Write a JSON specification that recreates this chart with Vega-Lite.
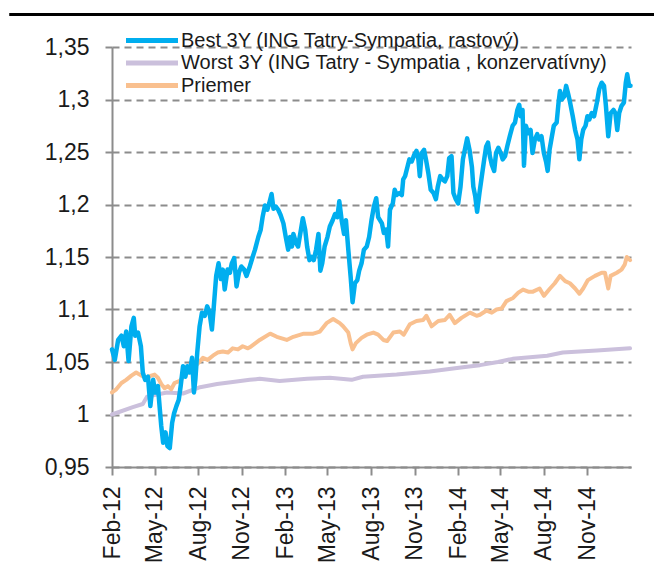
{
  "$schema": "https://vega.github.io/schema/vega-lite/v6.json",
  "width": 519,
  "height": 420,
  "autosize": {"type": "none"},
  "padding": {"left": 112, "top": 47, "right": 23, "bottom": 107},
  "background": "#ffffff",
  "config": {
    "view": {"stroke": null},
    "font": "Liberation Sans"
  },
  "datasets": {
    "best": [
      {"date": "2012-02-01", "value": 1.062}, {"date": "2012-02-07", "value": 1.052}, {"date": "2012-02-14", "value": 1.071}, {"date": "2012-02-21", "value": 1.075}, {"date": "2012-02-26", "value": 1.065}, {"date": "2012-03-02", "value": 1.079}, {"date": "2012-03-07", "value": 1.051}, {"date": "2012-03-13", "value": 1.084}, {"date": "2012-03-18", "value": 1.092}, {"date": "2012-03-21", "value": 1.075}, {"date": "2012-03-27", "value": 1.078}, {"date": "2012-04-02", "value": 1.065}, {"date": "2012-04-06", "value": 1.040}, {"date": "2012-04-11", "value": 1.033}, {"date": "2012-04-17", "value": 1.036}, {"date": "2012-04-22", "value": 1.008}, {"date": "2012-04-28", "value": 1.033}, {"date": "2012-05-02", "value": 1.021}, {"date": "2012-05-08", "value": 1.027}, {"date": "2012-05-12", "value": 1.005}, {"date": "2012-05-15", "value": 0.989}, {"date": "2012-05-19", "value": 0.973}, {"date": "2012-05-24", "value": 0.983}, {"date": "2012-05-28", "value": 0.970}, {"date": "2012-06-02", "value": 0.968}, {"date": "2012-06-07", "value": 0.992}, {"date": "2012-06-11", "value": 1.001}, {"date": "2012-06-16", "value": 1.008}, {"date": "2012-06-21", "value": 1.014}, {"date": "2012-06-25", "value": 1.027}, {"date": "2012-06-30", "value": 1.046}, {"date": "2012-07-05", "value": 1.036}, {"date": "2012-07-09", "value": 1.046}, {"date": "2012-07-14", "value": 1.040}, {"date": "2012-07-19", "value": 1.054}, {"date": "2012-07-23", "value": 1.021}, {"date": "2012-07-26", "value": 1.033}, {"date": "2012-07-30", "value": 1.059}, {"date": "2012-08-04", "value": 1.084}, {"date": "2012-08-09", "value": 1.097}, {"date": "2012-08-15", "value": 1.094}, {"date": "2012-08-20", "value": 1.103}, {"date": "2012-08-25", "value": 1.097}, {"date": "2012-08-30", "value": 1.081}, {"date": "2012-09-03", "value": 1.103}, {"date": "2012-09-08", "value": 1.132}, {"date": "2012-09-13", "value": 1.144}, {"date": "2012-09-18", "value": 1.129}, {"date": "2012-09-22", "value": 1.138}, {"date": "2012-09-26", "value": 1.119}, {"date": "2012-10-02", "value": 1.138}, {"date": "2012-10-07", "value": 1.135}, {"date": "2012-10-11", "value": 1.144}, {"date": "2012-10-16", "value": 1.149}, {"date": "2012-10-21", "value": 1.122}, {"date": "2012-10-26", "value": 1.135}, {"date": "2012-10-31", "value": 1.141}, {"date": "2012-11-06", "value": 1.138}, {"date": "2012-11-11", "value": 1.132}, {"date": "2012-11-18", "value": 1.141}, {"date": "2012-11-24", "value": 1.150}, {"date": "2012-11-29", "value": 1.157}, {"date": "2012-12-06", "value": 1.169}, {"date": "2012-12-11", "value": 1.176}, {"date": "2012-12-15", "value": 1.188}, {"date": "2012-12-20", "value": 1.199}, {"date": "2012-12-25", "value": 1.195}, {"date": "2012-12-29", "value": 1.201}, {"date": "2013-01-03", "value": 1.210}, {"date": "2013-01-07", "value": 1.196}, {"date": "2013-01-12", "value": 1.198}, {"date": "2013-01-17", "value": 1.195}, {"date": "2013-01-22", "value": 1.190}, {"date": "2013-01-28", "value": 1.182}, {"date": "2013-02-02", "value": 1.169}, {"date": "2013-02-07", "value": 1.157}, {"date": "2013-02-11", "value": 1.169}, {"date": "2013-02-15", "value": 1.160}, {"date": "2013-02-18", "value": 1.172}, {"date": "2013-02-24", "value": 1.163}, {"date": "2013-02-28", "value": 1.160}, {"date": "2013-03-06", "value": 1.176}, {"date": "2013-03-10", "value": 1.187}, {"date": "2013-03-15", "value": 1.176}, {"date": "2013-03-19", "value": 1.160}, {"date": "2013-03-24", "value": 1.147}, {"date": "2013-03-29", "value": 1.150}, {"date": "2013-04-02", "value": 1.147}, {"date": "2013-04-07", "value": 1.157}, {"date": "2013-04-12", "value": 1.172}, {"date": "2013-04-16", "value": 1.137}, {"date": "2013-04-20", "value": 1.144}, {"date": "2013-04-25", "value": 1.160}, {"date": "2013-05-01", "value": 1.169}, {"date": "2013-05-06", "value": 1.179}, {"date": "2013-05-12", "value": 1.185}, {"date": "2013-05-17", "value": 1.191}, {"date": "2013-05-22", "value": 1.188}, {"date": "2013-05-26", "value": 1.203}, {"date": "2013-05-31", "value": 1.185}, {"date": "2013-06-05", "value": 1.172}, {"date": "2013-06-09", "value": 1.185}, {"date": "2013-06-14", "value": 1.157}, {"date": "2013-06-19", "value": 1.131}, {"date": "2013-06-23", "value": 1.107}, {"date": "2013-06-28", "value": 1.125}, {"date": "2013-07-03", "value": 1.128}, {"date": "2013-07-07", "value": 1.137}, {"date": "2013-07-12", "value": 1.144}, {"date": "2013-07-17", "value": 1.157}, {"date": "2013-07-23", "value": 1.160}, {"date": "2013-07-28", "value": 1.169}, {"date": "2013-08-02", "value": 1.185}, {"date": "2013-08-07", "value": 1.198}, {"date": "2013-08-12", "value": 1.206}, {"date": "2013-08-16", "value": 1.188}, {"date": "2013-08-24", "value": 1.182}, {"date": "2013-08-28", "value": 1.173}, {"date": "2013-09-02", "value": 1.176}, {"date": "2013-09-06", "value": 1.160}, {"date": "2013-09-10", "value": 1.195}, {"date": "2013-09-16", "value": 1.201}, {"date": "2013-09-20", "value": 1.214}, {"date": "2013-09-24", "value": 1.209}, {"date": "2013-09-30", "value": 1.211}, {"date": "2013-10-05", "value": 1.209}, {"date": "2013-10-08", "value": 1.224}, {"date": "2013-10-12", "value": 1.227}, {"date": "2013-10-17", "value": 1.236}, {"date": "2013-10-21", "value": 1.243}, {"date": "2013-10-26", "value": 1.241}, {"date": "2013-10-31", "value": 1.247}, {"date": "2013-11-05", "value": 1.251}, {"date": "2013-11-09", "value": 1.243}, {"date": "2013-11-12", "value": 1.227}, {"date": "2013-11-16", "value": 1.249}, {"date": "2013-11-21", "value": 1.252}, {"date": "2013-11-25", "value": 1.243}, {"date": "2013-11-30", "value": 1.230}, {"date": "2013-12-05", "value": 1.214}, {"date": "2013-12-11", "value": 1.211}, {"date": "2013-12-16", "value": 1.205}, {"date": "2013-12-20", "value": 1.217}, {"date": "2013-12-25", "value": 1.227}, {"date": "2013-12-30", "value": 1.224}, {"date": "2014-01-04", "value": 1.222}, {"date": "2014-01-09", "value": 1.227}, {"date": "2014-01-13", "value": 1.244}, {"date": "2014-01-18", "value": 1.246}, {"date": "2014-01-22", "value": 1.211}, {"date": "2014-01-27", "value": 1.205}, {"date": "2014-02-01", "value": 1.201}, {"date": "2014-02-06", "value": 1.217}, {"date": "2014-02-11", "value": 1.243}, {"date": "2014-02-15", "value": 1.252}, {"date": "2014-02-20", "value": 1.263}, {"date": "2014-02-25", "value": 1.252}, {"date": "2014-03-02", "value": 1.236}, {"date": "2014-03-05", "value": 1.217}, {"date": "2014-03-09", "value": 1.208}, {"date": "2014-03-13", "value": 1.193}, {"date": "2014-03-18", "value": 1.211}, {"date": "2014-03-23", "value": 1.227}, {"date": "2014-03-28", "value": 1.243}, {"date": "2014-04-01", "value": 1.255}, {"date": "2014-04-05", "value": 1.259}, {"date": "2014-04-09", "value": 1.246}, {"date": "2014-04-13", "value": 1.238}, {"date": "2014-04-18", "value": 1.232}, {"date": "2014-04-22", "value": 1.249}, {"date": "2014-04-27", "value": 1.254}, {"date": "2014-05-02", "value": 1.249}, {"date": "2014-05-06", "value": 1.243}, {"date": "2014-05-11", "value": 1.246}, {"date": "2014-05-16", "value": 1.256}, {"date": "2014-05-21", "value": 1.265}, {"date": "2014-05-27", "value": 1.275}, {"date": "2014-06-01", "value": 1.278}, {"date": "2014-06-06", "value": 1.290}, {"date": "2014-06-10", "value": 1.295}, {"date": "2014-06-13", "value": 1.284}, {"date": "2014-06-17", "value": 1.290}, {"date": "2014-06-20", "value": 1.237}, {"date": "2014-06-24", "value": 1.275}, {"date": "2014-06-29", "value": 1.268}, {"date": "2014-07-04", "value": 1.271}, {"date": "2014-07-08", "value": 1.249}, {"date": "2014-07-13", "value": 1.262}, {"date": "2014-07-18", "value": 1.267}, {"date": "2014-07-22", "value": 1.262}, {"date": "2014-07-27", "value": 1.265}, {"date": "2014-08-01", "value": 1.249}, {"date": "2014-08-06", "value": 1.240}, {"date": "2014-08-09", "value": 1.232}, {"date": "2014-08-13", "value": 1.252}, {"date": "2014-08-18", "value": 1.265}, {"date": "2014-08-22", "value": 1.275}, {"date": "2014-08-28", "value": 1.278}, {"date": "2014-09-01", "value": 1.297}, {"date": "2014-09-04", "value": 1.308}, {"date": "2014-09-08", "value": 1.300}, {"date": "2014-09-13", "value": 1.303}, {"date": "2014-09-17", "value": 1.313}, {"date": "2014-09-21", "value": 1.306}, {"date": "2014-09-25", "value": 1.298}, {"date": "2014-10-01", "value": 1.284}, {"date": "2014-10-06", "value": 1.271}, {"date": "2014-10-11", "value": 1.262}, {"date": "2014-10-15", "value": 1.243}, {"date": "2014-10-19", "value": 1.262}, {"date": "2014-10-23", "value": 1.271}, {"date": "2014-10-28", "value": 1.275}, {"date": "2014-11-01", "value": 1.284}, {"date": "2014-11-05", "value": 1.281}, {"date": "2014-11-10", "value": 1.287}, {"date": "2014-11-15", "value": 1.284}, {"date": "2014-11-21", "value": 1.297}, {"date": "2014-11-26", "value": 1.310}, {"date": "2014-12-01", "value": 1.316}, {"date": "2014-12-06", "value": 1.313}, {"date": "2014-12-10", "value": 1.294}, {"date": "2014-12-15", "value": 1.265}, {"date": "2014-12-20", "value": 1.287}, {"date": "2014-12-26", "value": 1.290}, {"date": "2014-12-30", "value": 1.287}, {"date": "2015-01-03", "value": 1.271}, {"date": "2015-01-07", "value": 1.287}, {"date": "2015-01-12", "value": 1.294}, {"date": "2015-01-17", "value": 1.297}, {"date": "2015-01-21", "value": 1.316}, {"date": "2015-01-24", "value": 1.324}, {"date": "2015-01-28", "value": 1.313}, {"date": "2015-01-31", "value": 1.313}
    ],
    "worst": [
      {"date": "2012-02-01", "value": 1.000}, {"date": "2012-03-16", "value": 1.007}, {"date": "2012-04-06", "value": 1.010}, {"date": "2012-04-15", "value": 1.017}, {"date": "2012-05-27", "value": 1.021}, {"date": "2012-06-30", "value": 1.020}, {"date": "2012-08-05", "value": 1.026}, {"date": "2012-09-10", "value": 1.029}, {"date": "2012-10-13", "value": 1.031}, {"date": "2012-11-18", "value": 1.033}, {"date": "2012-12-09", "value": 1.034}, {"date": "2013-01-20", "value": 1.032}, {"date": "2013-03-19", "value": 1.034}, {"date": "2013-05-06", "value": 1.035}, {"date": "2013-06-21", "value": 1.033}, {"date": "2013-07-15", "value": 1.036}, {"date": "2013-09-24", "value": 1.038}, {"date": "2013-12-03", "value": 1.041}, {"date": "2014-02-11", "value": 1.045}, {"date": "2014-03-19", "value": 1.047}, {"date": "2014-04-26", "value": 1.050}, {"date": "2014-05-27", "value": 1.053}, {"date": "2014-08-08", "value": 1.056}, {"date": "2014-09-10", "value": 1.059}, {"date": "2014-11-21", "value": 1.061}, {"date": "2015-01-30", "value": 1.063}
    ],
    "avg": [
      {"date": "2012-02-01", "value": 1.021}, {"date": "2012-02-10", "value": 1.024}, {"date": "2012-02-21", "value": 1.030}, {"date": "2012-03-02", "value": 1.033}, {"date": "2012-03-13", "value": 1.037}, {"date": "2012-03-23", "value": 1.040}, {"date": "2012-04-03", "value": 1.037}, {"date": "2012-04-13", "value": 1.035}, {"date": "2012-04-24", "value": 1.037}, {"date": "2012-05-01", "value": 1.038}, {"date": "2012-05-08", "value": 1.035}, {"date": "2012-05-15", "value": 1.029}, {"date": "2012-05-22", "value": 1.025}, {"date": "2012-05-29", "value": 1.027}, {"date": "2012-06-05", "value": 1.024}, {"date": "2012-06-12", "value": 1.030}, {"date": "2012-06-23", "value": 1.032}, {"date": "2012-07-02", "value": 1.037}, {"date": "2012-07-10", "value": 1.040}, {"date": "2012-07-21", "value": 1.043}, {"date": "2012-08-01", "value": 1.049}, {"date": "2012-08-11", "value": 1.054}, {"date": "2012-08-21", "value": 1.052}, {"date": "2012-09-01", "value": 1.056}, {"date": "2012-09-11", "value": 1.059}, {"date": "2012-09-22", "value": 1.060}, {"date": "2012-10-03", "value": 1.059}, {"date": "2012-10-13", "value": 1.063}, {"date": "2012-10-24", "value": 1.062}, {"date": "2012-11-03", "value": 1.065}, {"date": "2012-11-14", "value": 1.063}, {"date": "2012-11-18", "value": 1.064}, {"date": "2012-12-09", "value": 1.071}, {"date": "2012-12-31", "value": 1.077}, {"date": "2013-01-14", "value": 1.074}, {"date": "2013-02-04", "value": 1.071}, {"date": "2013-02-18", "value": 1.074}, {"date": "2013-03-12", "value": 1.077}, {"date": "2013-04-01", "value": 1.077}, {"date": "2013-04-15", "value": 1.079}, {"date": "2013-04-29", "value": 1.087}, {"date": "2013-05-13", "value": 1.091}, {"date": "2013-05-27", "value": 1.087}, {"date": "2013-06-03", "value": 1.084}, {"date": "2013-06-14", "value": 1.078}, {"date": "2013-06-19", "value": 1.068}, {"date": "2013-06-23", "value": 1.062}, {"date": "2013-06-30", "value": 1.068}, {"date": "2013-07-12", "value": 1.073}, {"date": "2013-07-23", "value": 1.076}, {"date": "2013-08-06", "value": 1.078}, {"date": "2013-08-16", "value": 1.076}, {"date": "2013-08-27", "value": 1.071}, {"date": "2013-09-04", "value": 1.070}, {"date": "2013-09-17", "value": 1.078}, {"date": "2013-10-01", "value": 1.079}, {"date": "2013-10-09", "value": 1.076}, {"date": "2013-10-22", "value": 1.086}, {"date": "2013-11-05", "value": 1.089}, {"date": "2013-11-19", "value": 1.090}, {"date": "2013-11-26", "value": 1.094}, {"date": "2013-12-07", "value": 1.084}, {"date": "2013-12-21", "value": 1.089}, {"date": "2014-01-04", "value": 1.090}, {"date": "2014-01-14", "value": 1.095}, {"date": "2014-01-25", "value": 1.087}, {"date": "2014-02-08", "value": 1.092}, {"date": "2014-02-26", "value": 1.097}, {"date": "2014-03-12", "value": 1.094}, {"date": "2014-03-19", "value": 1.095}, {"date": "2014-04-02", "value": 1.099}, {"date": "2014-04-13", "value": 1.097}, {"date": "2014-04-23", "value": 1.100}, {"date": "2014-05-04", "value": 1.101}, {"date": "2014-05-14", "value": 1.108}, {"date": "2014-05-28", "value": 1.111}, {"date": "2014-06-08", "value": 1.116}, {"date": "2014-06-18", "value": 1.119}, {"date": "2014-06-29", "value": 1.117}, {"date": "2014-07-09", "value": 1.117}, {"date": "2014-07-23", "value": 1.120}, {"date": "2014-08-01", "value": 1.113}, {"date": "2014-08-14", "value": 1.120}, {"date": "2014-08-24", "value": 1.125}, {"date": "2014-09-04", "value": 1.132}, {"date": "2014-09-15", "value": 1.127}, {"date": "2014-09-25", "value": 1.125}, {"date": "2014-10-06", "value": 1.120}, {"date": "2014-10-15", "value": 1.115}, {"date": "2014-10-23", "value": 1.120}, {"date": "2014-11-02", "value": 1.128}, {"date": "2014-11-17", "value": 1.132}, {"date": "2014-12-01", "value": 1.135}, {"date": "2014-12-08", "value": 1.135}, {"date": "2014-12-15", "value": 1.120}, {"date": "2014-12-20", "value": 1.132}, {"date": "2015-01-02", "value": 1.135}, {"date": "2015-01-12", "value": 1.138}, {"date": "2015-01-19", "value": 1.143}, {"date": "2015-01-23", "value": 1.150}, {"date": "2015-01-30", "value": 1.147}
    ]
  },
  "layer": [
    {
      "data": {"name": "worst"},
      "mark": {"type": "line", "strokeWidth": 4, "strokeJoin": "round", "strokeCap": "round"},
      "encoding": {
        "x": {
          "field": "date",
          "type": "temporal",
          "scale": {"type": "utc", "domain": [{"year": 2012, "month": 2, "date": 1, "utc": true}, {"year": 2015, "month": 2, "date": 1, "utc": true}]},
          "axis": {
            "title": null,
            "values": [
              {"year": 2012, "month": 2, "date": 1, "utc": true},
              {"year": 2012, "month": 5, "date": 1, "utc": true},
              {"year": 2012, "month": 8, "date": 1, "utc": true},
              {"year": 2012, "month": 11, "date": 1, "utc": true},
              {"year": 2013, "month": 2, "date": 1, "utc": true},
              {"year": 2013, "month": 5, "date": 1, "utc": true},
              {"year": 2013, "month": 8, "date": 1, "utc": true},
              {"year": 2013, "month": 11, "date": 1, "utc": true},
              {"year": 2014, "month": 2, "date": 1, "utc": true},
              {"year": 2014, "month": 5, "date": 1, "utc": true},
              {"year": 2014, "month": 8, "date": 1, "utc": true},
              {"year": 2014, "month": 11, "date": 1, "utc": true}
            ],
            "format": "%b-%y",
            "labelAngle": 270,
            "labelAlign": "right",
            "labelBaseline": "middle",
            "labelFontSize": 23,
            "labelFont": "Liberation Sans",
            "labelColor": "#1a1a1a",
            "labelPadding": 11,
            "labelOverlap": false,
            "labelFlush": false,
            "grid": false,
            "domainColor": "#8c8c8c",
            "domainWidth": 2,
            "tickColor": "#8c8c8c",
            "tickWidth": 2,
            "tickSize": 8
          }
        },
        "y": {
          "field": "value",
          "type": "quantitative",
          "scale": {"domain": [0.95, 1.35], "nice": false, "zero": false},
          "axis": {
            "title": null,
            "values": [0.95, 1.0, 1.05, 1.1, 1.15, 1.2, 1.25, 1.3, 1.35],
            "labelExpr": "replace(toString(round(datum.value * 100) / 100), '.', ',')",
            "labelFontSize": 23,
            "labelFont": "Liberation Sans",
            "labelColor": "#1a1a1a",
            "labelPadding": 16,
            "grid": true,
            "gridDash": [7, 5],
            "gridColor": "#8c8c8c",
            "gridWidth": 2,
            "domainColor": "#8c8c8c",
            "domainWidth": 2,
            "tickColor": "#8c8c8c",
            "tickWidth": 2,
            "tickSize": 7
          }
        },
        "color": {
          "datum": "Worst 3Y (ING Tatry - Sympatia , konzervatívny)",
          "type": "nominal",
          "scale": {
            "domain": ["Best 3Y (ING Tatry-Sympatia, rastový)", "Worst 3Y (ING Tatry - Sympatia , konzervatívny)", "Priemer"],
            "range": ["#00AEEF", "#CBC0DC", "#F9C08F"]
          },
          "legend": {
            "title": null,
            "orient": "none",
            "legendX": 29.5,
            "legendY": -17,
            "symbolType": "M-3.25,0H3.25",
            "symbolSize": 256,
            "symbolStrokeWidth": 5,
            "labelFontSize": 20,
            "labelFont": "Liberation Sans",
            "labelColor": "#1a1a1a",
            "labelOffset": 18.5,
            "labelLimit": 600,
            "rowPadding": 1.5,
            "padding": 0
          }
        }
      }
    },
    {
      "data": {"name": "avg"},
      "mark": {"type": "line", "strokeWidth": 4, "strokeJoin": "round", "strokeCap": "round"},
      "encoding": {
        "x": {"field": "date", "type": "temporal"},
        "y": {"field": "value", "type": "quantitative"},
        "color": {"datum": "Priemer", "type": "nominal"}
      }
    },
    {
      "data": {"name": "best"},
      "mark": {"type": "line", "strokeWidth": 4.5, "strokeJoin": "round", "strokeCap": "round"},
      "encoding": {
        "x": {"field": "date", "type": "temporal"},
        "y": {"field": "value", "type": "quantitative"},
        "color": {"datum": "Best 3Y (ING Tatry-Sympatia, rastový)", "type": "nominal"}
      }
    },
    {
      "data": {"values": [{"line": "top"}]},
      "mark": {"type": "rule", "color": "#000000", "strokeWidth": 3, "clip": false},
      "encoding": {
        "x": {"datum": {"year": 2011, "month": 6, "date": 29, "utc": true}, "type": "temporal"},
        "x2": {"datum": {"year": 2015, "month": 3, "date": 25, "utc": true}},
        "y": {"datum": 1.381, "type": "quantitative"}
      }
    }
  ]
}
